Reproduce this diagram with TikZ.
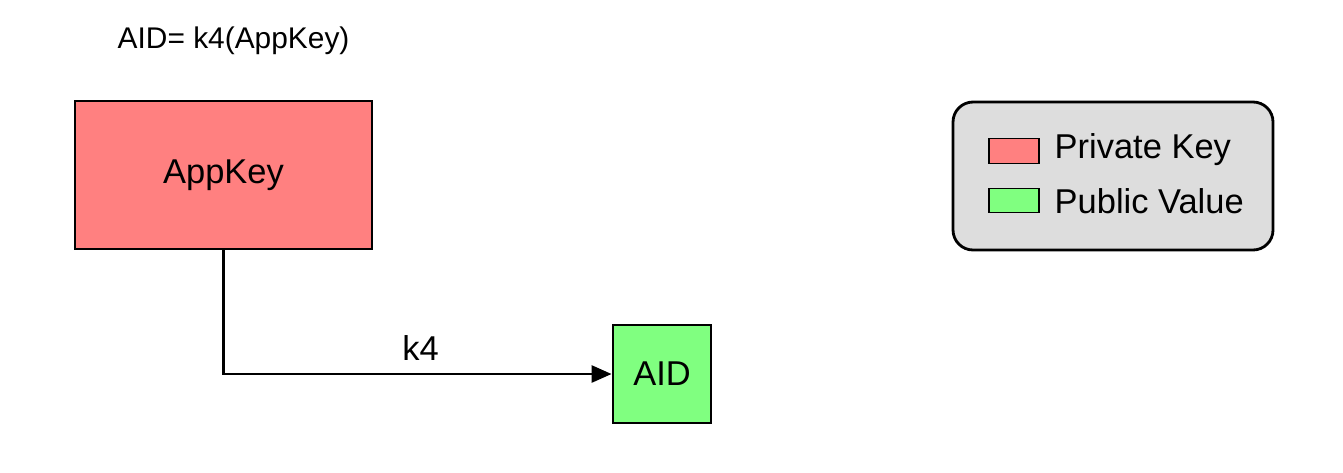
\documentclass[tikz,border=0pt]{standalone}
\usepackage{fontspec}
\setmainfont{Liberation Sans}
\usetikzlibrary{arrows.meta}
\definecolor{privred}{HTML}{FF8080}
\definecolor{pubgreen}{HTML}{80FF80}
\definecolor{legendgray}{HTML}{DDDDDD}
\begin{document}
\begin{tikzpicture}[x=0.01cm,y=-0.01cm,
		keybox/.style={draw,thick,fill=privred,minimum width=2.97cm,minimum height=1.48cm,font=\fontsize{9.8}{11}\selectfont},
		valbox/.style={draw,thick,fill=pubgreen,minimum width=0.98cm,minimum height=0.98cm,font=\fontsize{9.8}{11}\selectfont},
		swatch/.style={draw,fill=#1,minimum width=0.5cm,minimum height=0.245cm,inner sep=0pt}]
		\useasboundingbox (0,0) rectangle (1343,472);
		\node[anchor=base west,inner sep=0pt,font=\fontsize{8.5}{10}\selectfont] (title) at (117,48) {AID= k4(AppKey)};
		\node[keybox] (appkey) at (223.5,175) {AppKey};
		\node[valbox] (aid) at (662,374) {AID};
		\coordinate (bend) at (appkey.south |- aid.west);
		\draw[thick,-{Triangle[length=2mm,width=1.7mm]}] (appkey.south) -- (bend) -- (aid.west) node[pos=0.5,above=0.05,xshift=0.03cm,font=\fontsize{9.8}{11}\selectfont]{k4};
		% legend
		\draw[thick,fill=legendgray,rounded corners=0.2cm] (953,102) rectangle (1273,250);
		\node[swatch=privred] (redkey) at (1014,151) {};
		\node[swatch=pubgreen] (greenkey) at (1014,200.5) {};
		\node[anchor=west,inner sep=0pt,font=\fontsize{9.8}{11}\selectfont] (privlabel) at (1054,150) {Private Key};
		\node[anchor=west,inner sep=0pt,font=\fontsize{9.8}{11}\selectfont] (publabel) at (1054,201) {Public Value};
	\end{tikzpicture}
\end{document}
